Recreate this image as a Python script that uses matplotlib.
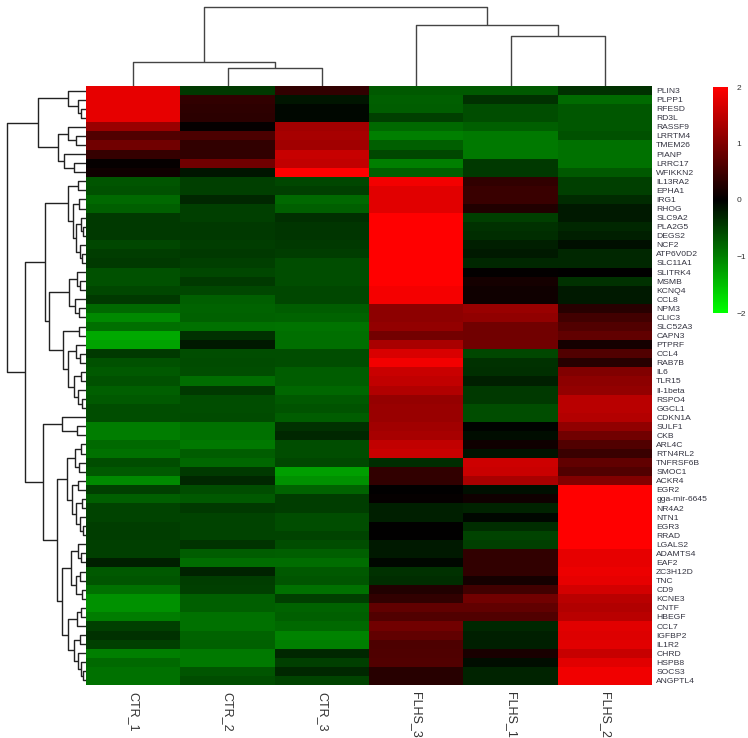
import numpy as np
import matplotlib
matplotlib.use("Agg")
import matplotlib.pyplot as plt
from matplotlib.colors import LinearSegmentedColormap

plt.rcParams['font.family'] = ['Liberation Sans', 'DejaVu Sans']

# samples in plotted (clustered) order
samples = ["CTR_1", "CTR_2", "CTR_3", "FLHS_3", "FLHS_1", "FLHS_2"]

genes = ["PLIN3", "PLPP1", "RFESD", "RD3L", "RASSF9", "LRRTM4", "TMEM26", "PIANP",
         "LRRC17", "WFIKKN2", "IL13RA2", "EPHA1", "IRG1", "RHOG", "SLC9A2", "PLA2G5",
         "DEGS2", "NCF2", "ATP6V0D2", "SLC11A1", "SLITRK4", "MSMB", "KCNQ4", "CCL8",
         "NPM3", "CLIC3", "SLC52A3", "CAPN3", "PTPRF", "CCL4", "RAB7B", "IL6", "TLR15",
         "Il-1beta", "RSPO4", "GGCL1", "CDKN1A", "SULF1", "CKB", "ARL4C", "RTN4RL2",
         "TNFRSF6B", "SMOC1", "ACKR4", "EGR2", "gga-mir-6645", "NR4A2", "NTN1", "EGR3",
         "RRAD", "LGALS2", "ADAMTS4", "EAF2", "ZC3H12D", "TNC", "CD9", "KCNE3", "CNTF",
         "HBEGF", "CCL7", "IGFBP2", "IL1R2", "CHRD", "HSPB8", "SOCS3", "ANGPTL4"]

# row z-scores per sample
ctr_1 = [1.8, 1.8, 1.8, 1.8, 1.2, 0.63, 0.88, 0.42, 0.04, 0.12,
         -0.67, -0.63, -0.82, -0.75, -0.45, -0.45, -0.45, -0.56, -0.47, -0.45,
         -0.63, -0.63, -0.56, -0.45, -0.82, -1.07, -0.86, -1.32, -1.28, -0.45,
         -0.63, -0.7, -0.63, -0.75, -0.7, -0.6, -0.6, -0.97, -0.97, -0.82,
         -0.88, -0.6, -0.7, -1.07, -0.5, -0.75, -0.53, -0.53, -0.47, -0.47,
         -0.5, -0.5, -0.25, -0.7, -0.66, -0.88, -1.13, -1.13, -0.97, -0.5,
         -0.38, -0.5, -1.0, -0.82, -0.88, -0.88]
ctr_2 = [-0.45, 0.38, 0.35, 0.33, 0.04, 0.58, 0.38, 0.38, 0.88, -0.17,
         -0.5, -0.5, -0.3, -0.5, -0.5, -0.45, -0.45, -0.48, -0.45, -0.5,
         -0.55, -0.45, -0.56, -0.75, -0.78, -0.76, -0.88, -0.38, -0.2, -0.6,
         -0.58, -0.6, -0.85, -0.45, -0.6, -0.6, -0.58, -0.88, -0.88, -0.94,
         -0.72, -0.8, -0.45, -0.3, -0.6, -0.7, -0.45, -0.53, -0.53, -0.53,
         -0.4, -0.72, -0.85, -0.28, -0.47, -0.5, -0.75, -0.75, -0.88, -0.88,
         -0.78, -0.76, -0.94, -0.94, -0.66, -0.6]
ctr_3 = [0.38, -0.17, -0.05, -0.05, 1.25, 1.3, 1.25, 1.55, 1.5, 2.0,
         -0.56, -0.5, -0.82, -0.75, -0.36, -0.42, -0.42, -0.45, -0.48, -0.6,
         -0.6, -0.6, -0.56, -0.56, -0.72, -0.78, -0.9, -0.86, -0.86, -0.6,
         -0.6, -0.72, -0.72, -0.8, -0.7, -0.65, -0.72, -0.38, -0.3, -0.6,
         -0.6, -0.55, -1.25, -1.13, -0.78, -0.47, -0.47, -0.6, -0.6, -0.53,
         -0.6, -0.75, -0.85, -0.7, -0.66, -0.88, -0.5, -0.78, -0.75, -0.82,
         -1.03, -1.0, -0.3, -0.5, -0.3, -0.53]
flhs_3 = [-0.7, -0.75, -0.72, -0.5, -0.82, -1.0, -0.75, -0.55, -1.0, -0.75,
          1.9, 1.76, 1.76, 1.76, 2.0, 2.0, 2.0, 2.0, 2.0, 2.0,
          2.0, 2.0, 1.92, 1.92, 1.1, 1.1, 1.15, 0.9, 1.32, 1.7,
          1.9, 1.57, 1.5, 1.38, 1.17, 1.2, 1.2, 1.25, 1.3, 1.5,
          1.57, -0.35, 0.38, 0.38, 0.0, 0.04, -0.25, -0.25, 0.0, 0.0,
          -0.2, -0.2, -0.06, -0.38, -0.35, 0.25, 0.38, 0.75, 0.63, 0.88,
          0.75, 0.6, 0.62, 0.63, 0.3, 0.3]
flhs_1 = [-0.7, -0.38, -0.6, -0.6, -0.75, -0.94, -0.94, -0.94, -0.45, -0.45,
          0.38, 0.45, 0.45, 0.25, -0.5, -0.38, -0.35, -0.25, -0.2, -0.3,
          0.02, 0.17, 0.12, 0.12, 1.2, 1.13, 0.88, 0.88, 0.88, -0.56,
          -0.38, -0.36, -0.25, -0.45, -0.45, -0.6, -0.6, -0.03, -0.1, 0.12,
          -0.15, 1.6, 1.57, 1.32, -0.12, 0.12, -0.28, -0.06, -0.35, -0.53,
          -0.5, 0.38, 0.38, 0.38, 0.17, 0.5, 0.88, 0.75, 0.63, -0.3,
          -0.25, -0.25, 0.2, -0.1, -0.28, -0.28]
flhs_2 = [-0.38, -0.83, -0.68, -0.68, -0.68, -0.63, -0.88, -0.88, -0.88, -0.7,
          -0.5, -0.5, -0.33, -0.2, -0.2, -0.3, -0.25, -0.12, -0.3, -0.3,
          0.0, -0.38, -0.2, -0.2, 0.3, 0.5, 0.63, 0.75, 0.17, 0.63,
          0.3, 1.0, 1.1, 1.15, 1.45, 1.45, 1.4, 1.13, 0.88, 0.63,
          0.45, 0.75, 0.63, 1.0, 2.0, 2.0, 2.0, 2.0, 2.0, 2.0,
          2.0, 1.8, 1.8, 1.85, 1.8, 1.65, 1.45, 1.38, 1.45, 1.75,
          1.72, 1.76, 1.55, 1.76, 1.88, 1.88]

# dendrograms: (merge height in px, left, right); ints are leaf indices
col_tree = (79, (24, 0, (18, 1, 2)), (61, 3, (50, 4, 5)))

row_tree = (79,
    (48,
        (18, 0, (8, 1, (5, 2, 3))),
        (28, (18, 4, (10, 5, 6)), (22, 7, (12, 8, 9)))),
    (61,
        (41,
            (18, (8, 10, 11),
                 (13, (7, 12, 13), (10, (5, 14, (3, 15, 16)), (6, 17, (4, 18, 19))))),
            (37,
                (17, (9, 20, (6, 21, 22)), (11, 23, (7, 24, 25))),
                (23, (7, 26, 27),
                     (18, (10, 28, (6, 29, 30)), (12, (5, 31, 32), (8, 33, (4, 34, 35))))))),
        (43,
            (24, 36, (9, 37, 38)),
            (29,
                (19, (11, (5, 39, 40), (7, 41, 42)),
                     (14, (8, 43, 44), (10, (4, 45, 46), (6, 47, (3, 48, 49))))),
                (24, (15, (8, 50, (5, 51, 52)), (10, (6, 53, 54), (4, 55, 56))),
                     (18, (9, (5, 57, 58), 59),
                          (12, (6, 60, 61), (8, 62, (5, 63, (3, 64, 65))))))))))


def draw_tree(ax, node, side, color):
    # returns (leaf-axis position, height) of the node
    if isinstance(node, int):
        return node + 0.5, 0
    h, left, right = node
    p1, h1 = draw_tree(ax, left, side, color)
    p2, h2 = draw_tree(ax, right, side, color)
    pos = [p1, p1, p2, p2]
    hts = [h1, h, h, h2]
    if side == "top":
        ax.plot(pos, hts, color=color, lw=1.0, solid_capstyle="butt")
    else:
        ax.plot(hts, pos, color=color, lw=1.0, solid_capstyle="butt")
    return (p1 + p2) / 2, h


data = np.array([ctr_1, ctr_2, ctr_3, flhs_3, flhs_1, flhs_2]).T
cmap = LinearSegmentedColormap.from_list("gbr", ["#00ff00", "#000000", "#ff0000"])

W, H = 748, 738
fig = plt.figure(figsize=(W / 100, H / 100), dpi=100)

hx0, hx1, hy0, hy1 = 86, 652, 86, 685   # heatmap box in pixels (top-left origin)


def box(x0, y0, x1, y1):
    return [x0 / W, 1 - y1 / H, (x1 - x0) / W, (y1 - y0) / H]


ax = fig.add_axes(box(hx0, hy0, hx1, hy1))
mesh = ax.pcolormesh(np.arange(7), np.arange(67), data, cmap=cmap, vmin=-2, vmax=2)
ax.set_xlim(0, 6)
ax.set_ylim(66, 0)
ax.yaxis.tick_right()
ax.set_yticks(np.arange(66) + 0.5)
ax.set_yticklabels(genes, fontsize=6.1, color="#333340")
ax.set_xticks(np.arange(6) + 0.5)
ax.set_xticklabels(samples, rotation=270, fontsize=9, color="#333333")
ax.tick_params(length=0, pad=3)
ax.tick_params(axis="x", pad=5)
for s in ax.spines.values():
    s.set_visible(False)

# column dendrogram
axt = fig.add_axes(box(hx0, 0, hx1, hy0))
draw_tree(axt, col_tree, "top", "#444444")
axt.set_xlim(0, 6)
axt.set_ylim(0, 86)
axt.axis("off")

# row dendrogram
axl = fig.add_axes(box(0, hy0, hx0, hy1))
draw_tree(axl, row_tree, "left", "#222222")
axl.set_xlim(86, 0)
axl.set_ylim(66, 0)
axl.axis("off")

# colour key
cax = fig.add_axes(box(713, 87, 728, 313))
cb = fig.colorbar(mesh, cax=cax, ticks=[2, 1, 0, -1, -2])
cb.outline.set_visible(False)
cax.tick_params(length=0, labelsize=6, pad=6, labelcolor="#333333")

fig.savefig("out.png", dpi=100)
